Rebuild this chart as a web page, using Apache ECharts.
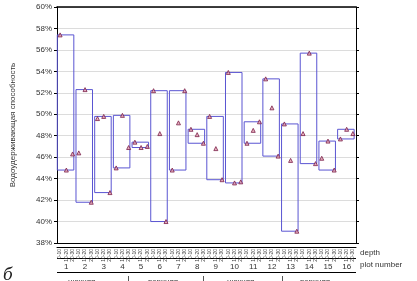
<!DOCTYPE html>
<html>
<head>
<meta charset="utf-8">
<script src="https://cdn.jsdelivr.net/npm/echarts@6/dist/echarts.min.js"></script>
<style>
  html, body { margin: 0; padding: 0; background: #fff; }
  #chart { width: 417px; height: 281px; }
</style>
</head>
<body>
<div id="chart"></div>
<script>
// plot numbers and depth layers
const plots = ['1','2','3','4','5','6','7','8','9','10','11','12','13','14','15','16'];
const depths = ['0-10', '10-20', '20-30'];

// water retention capacity, %, per depth
const depth1 = [57.4, 46.4, 49.6, 45.0, 47.4, 52.2, 44.8, 48.6, 49.8, 53.9, 47.3, 53.3, 49.1, 48.2, 45.9, 47.7];
const depth2 = [44.8, 52.3, 49.8, 49.9, 46.9, 48.2, 49.2, 48.1, 46.8, 43.6, 48.5, 50.6, 45.7, 55.7, 47.5, 48.6];
const depth3 = [46.3, 41.8, 42.7, 46.9, 47.0, 40.0, 52.2, 47.3, 43.9, 43.7, 49.3, 46.1, 39.1, 45.4, 44.8, 48.2];

const yTicks = [38, 60, 2]; // min, max, step

// slots: 3 depths per plot
let slots = [], slotLabels = [], points = [], boxes = [];
plots.forEach((p, g) => {
  const v = [depth1[g], depth2[g], depth3[g]];
  v.forEach((val, d) => {
    slots.push(p + '_' + d);
    slotLabels.push(depths[d]);
    points.push([g * 3 + d, val]);
  });
  boxes.push([g * 3, Math.min(...v), Math.max(...v)]);
});

const chart = echarts.init(document.getElementById('chart'));
const txt = { fontFamily: 'Liberation Sans', color: '#333' };

const option = {
  animation: false,
  grid: { left: 57, right: 61, top: 7, bottom: 38 },
  xAxis: [
    {
      type: 'category', data: slots, position: 'bottom',
      axisLine: { lineStyle: { color: '#000', width: 1 } },
      axisTick: { inside: true, length: 3, interval: 0, lineStyle: { color: '#000' } },
      axisLabel: {
        interval: 0, rotate: 90, fontSize: 5, margin: 6, color: '#444',
        fontFamily: 'Liberation Sans',
        formatter: (v, i) => slotLabels[i]
      },
      splitLine: { show: false }
    },
    {
      type: 'category', data: slots, position: 'bottom', offset: 4,
      axisLine: { show: false },
      axisTick: { length: 11, interval: 0, lineStyle: { color: '#666' } },
      axisLabel: { show: false }
    },
    {
      type: 'category', data: plots, position: 'bottom', offset: 4,
      axisLine: { lineStyle: { color: '#000', width: 1 } },
      axisTick: { length: 25, interval: 0, lineStyle: { color: '#000' } },
      axisLabel: { interval: 0, fontSize: 8, margin: 16, color: '#333', fontFamily: 'Liberation Sans' }
    },
    {
      type: 'category', data: slots, position: 'top',
      axisLine: { lineStyle: { color: '#000', width: 1.5 } },
      axisTick: { inside: true, length: 3, interval: 0, lineStyle: { color: '#888' } },
      axisLabel: { show: false }
    }
  ],
  yAxis: [
    {
      type: 'value', min: yTicks[0], max: yTicks[1], interval: yTicks[2], position: 'left',
      name: 'Водоудерживающая способность', nameLocation: 'middle', nameGap: 40,
      nameTextStyle: Object.assign({ fontSize: 8 }, txt),
      axisLine: { show: true, lineStyle: { color: '#000' } },
      axisTick: { show: true, length: 3, lineStyle: { color: '#000' } },
      axisLabel: Object.assign({ fontSize: 8, margin: 5, formatter: '{value}%' }, txt),
      splitLine: { lineStyle: { color: '#dcdcdc', width: 1 } }
    },
    {
      type: 'value', min: yTicks[0], max: yTicks[1], interval: yTicks[2], position: 'right',
      axisLine: { show: true, lineStyle: { color: '#000' } },
      axisTick: { show: true, length: 3, lineStyle: { color: '#000' } },
      axisLabel: { show: false },
      splitLine: { show: false }
    }
  ],
  series: [
    {
      type: 'custom', xAxisIndex: 0, yAxisIndex: 0, data: boxes,
      renderItem: (params, api) => {
        const s = api.value(0);
        const band = api.size([1, 0])[0];
        const p1 = api.coord([s, api.value(2)]);
        const p2 = api.coord([s + 2, api.value(1)]);
        const x1 = p1[0] - band * 0.45, x2 = p2[0] + band * 0.2;
        return {
          type: 'rect',
          shape: { x: x1, y: p1[1], width: x2 - x1, height: p2[1] - p1[1] },
          style: { fill: 'none', stroke: '#5a55d2', lineWidth: 1 }
        };
      },
      z: 2
    },
    {
      type: 'scatter', xAxisIndex: 0, yAxisIndex: 0, data: points,
      symbol: 'triangle', symbolSize: 4,
      itemStyle: { color: '#e3a0ae', borderColor: '#7a1f4a', borderWidth: 1 },
      z: 3
    }
  ],
  graphic: [
    { type: 'line', shape: { x1: 57, y1: 258.5, x2: 356, y2: 258.5 }, style: { stroke: '#000', lineWidth: 1 } },
    { type: 'line', shape: { x1: 57, y1: 272.5, x2: 356, y2: 272.5 }, style: { stroke: '#000', lineWidth: 1 } },
    { type: 'text', left: 360, top: 249, style: { text: 'depth', fontSize: 8, fill: '#333', fontFamily: 'Liberation Sans' } },
    { type: 'text', left: 360, top: 261, style: { text: 'plot number', fontSize: 8, fill: '#333', fontFamily: 'Liberation Sans' } },
    { type: 'text', left: 3, top: 268, style: { text: 'б', fontSize: 16, fill: '#222', fontStyle: 'italic', fontFamily: 'DejaVu Serif' } },
    { type: 'text', left: 68, top: 278, style: { text: 'нижняя', fontSize: 8, fill: '#333', fontFamily: 'Liberation Sans' } },
    { type: 'text', left: 148, top: 278, style: { text: 'верхняя', fontSize: 8, fill: '#333', fontFamily: 'Liberation Sans' } },
    { type: 'text', left: 227, top: 278, style: { text: 'нижняя', fontSize: 8, fill: '#333', fontFamily: 'Liberation Sans' } },
    { type: 'text', left: 300, top: 278, style: { text: 'верхняя', fontSize: 8, fill: '#333', fontFamily: 'Liberation Sans' } },
    { type: 'line', shape: { x1: 128.5, y1: 276, x2: 128.5, y2: 281 }, style: { stroke: '#555', lineWidth: 1 } },
    { type: 'line', shape: { x1: 203.5, y1: 276, x2: 203.5, y2: 281 }, style: { stroke: '#555', lineWidth: 1 } },
    { type: 'line', shape: { x1: 282.5, y1: 276, x2: 282.5, y2: 281 }, style: { stroke: '#555', lineWidth: 1 } }
  ]
};

chart.setOption(option);
</script>
</body>
</html>
